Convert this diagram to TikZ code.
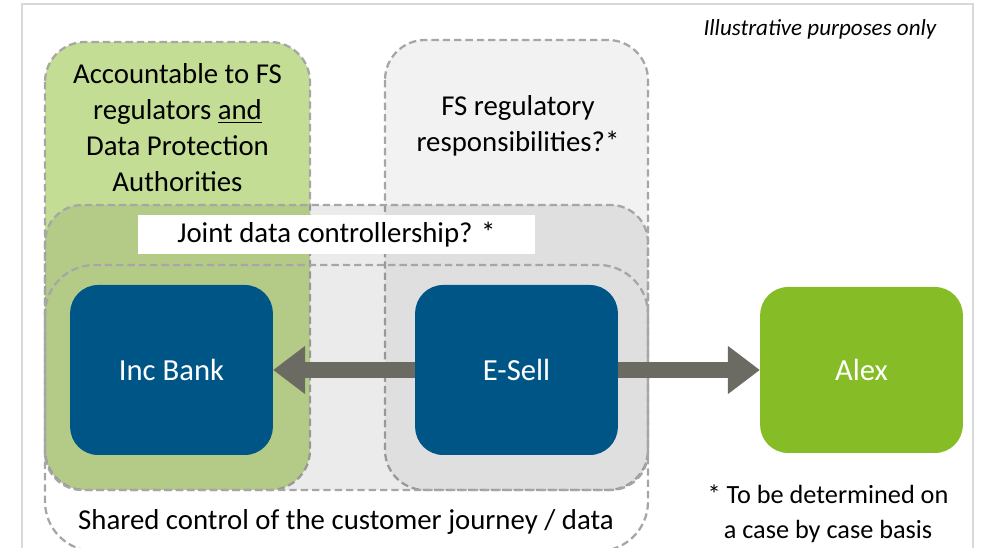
\documentclass[tikz,border=0pt]{standalone}
\usepackage{fontspec}
\setmainfont{Carlito}
\usetikzlibrary{arrows.meta,positioning}

\definecolor{incblue}{HTML}{005587}
\definecolor{alexgreen}{HTML}{86BC25}
\definecolor{palegreen}{HTML}{C4DD94}
\definecolor{palegray}{HTML}{F2F2F2}
\definecolor{dashgray}{HTML}{A6A6A6}
\definecolor{framegray}{HTML}{D9D9D9}
\definecolor{arrowgray}{HTML}{6B6B63}

\tikzset{
  zone/.style={draw=dashgray, line width=1.7pt, dash pattern=on 5.5pt off 3pt},
  party/.style={rectangle, rounded corners=21pt, minimum width=152pt, minimum height=127.5pt,
    inner sep=0pt, text=white, font=\fontsize{23}{28}\selectfont},
  flow/.style={draw=arrowgray, line width=12pt, -{Triangle[length=24pt,width=34.5pt]}},
  zonetext/.style={font=\fontsize{21.6}{27}\selectfont, align=center, text=black}
}

\begin{document}
\begin{tikzpicture}[x=0.75pt, y=-0.75pt]
\useasboundingbox (0,0) rectangle (982,548);

% outer frame
\draw[framegray, line width=1.5pt] (22,560) -- (22,4) -- (973,4) -- (973,560);
\node[font=\itshape\fontsize{17.3}{20}\selectfont, anchor=east] (illus) at (941,29) {Illustrative purposes only};

% regulatory zones
\draw[zone, fill=palegreen, rounded corners=30pt] (45,42) rectangle (310,490);
\draw[zone, fill=palegray, rounded corners=30pt] (385,40) rectangle (648,490);
% joint controllership (shaded over both zones)
\draw[zone, fill=black, fill opacity=0.08, rounded corners=28pt] (45,205) rectangle (648,490);
% shared control, no fill
\draw[zone, rounded corners=37pt] (45,265) rectangle (648,551);

% zone labels
\node[zonetext] (acct) at (177.5,128) {Accountable to FS\\ regulators \underline{and}\\ Data Protection\\ Authorities};
\node[zonetext] (fsreg) at (518,126) {FS regulatory\\ responsibilities?*};
\node[zonetext, fill=white, minimum width=297.75pt, minimum height=29.25pt, inner sep=0pt] (joint) at (336.5,234.5) {Joint data controllership? *};
\node[zonetext] (shared) at (346,522) {Shared control of the customer journey / data};

% parties
\node[party, fill=incblue] (bank) at (171.5,370) {Inc Bank};
\node[party, fill=incblue] (esell) at (516.5,370) {E-Sell};
\node[party, fill=alexgreen, minimum height=124.5pt] (alex) at (861.5,370) {Alex};

% data flows
\draw[flow] (esell) -- (bank);
\draw[flow] (esell) -- (alex);

\node[font=\fontsize{19.7}{26.25}\selectfont, align=center] (note) at (828,514) {* To be determined on\\ a case by case basis};
\end{tikzpicture}
\end{document}
